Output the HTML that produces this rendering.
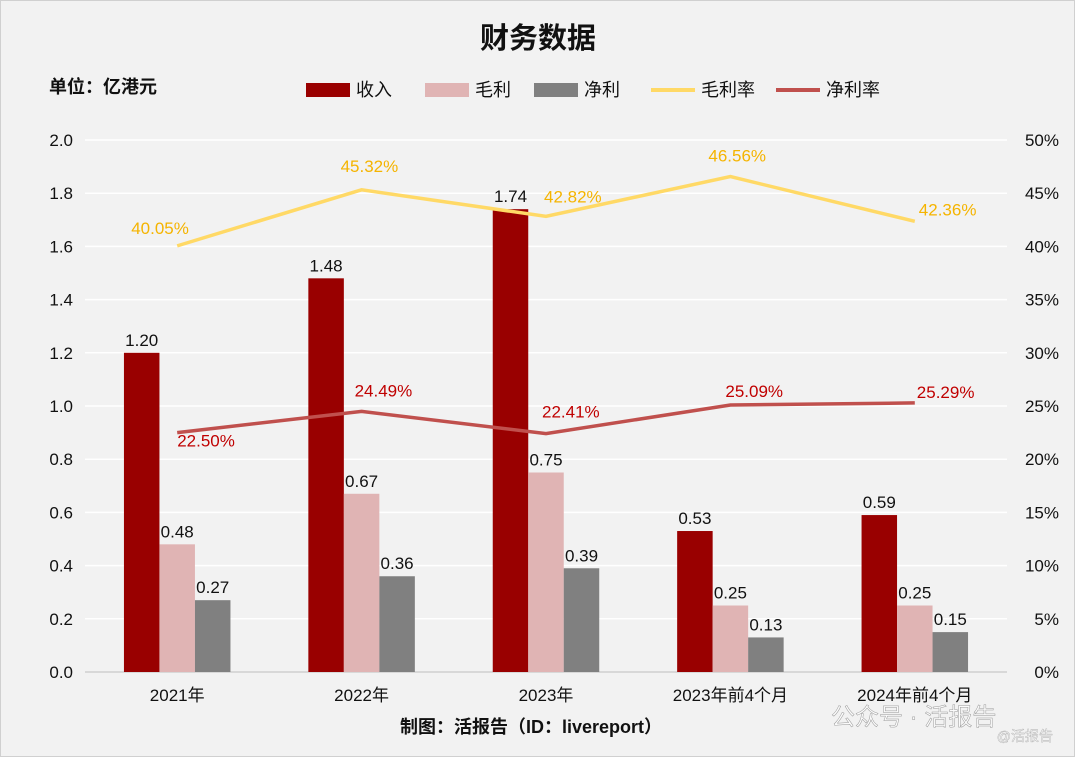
<!DOCTYPE html>
<html><head><meta charset="utf-8">
<style>
body{margin:0;background:#fff;font-family:"Liberation Sans","Noto Sans CJK SC",sans-serif;}
#wrap{position:relative;width:1075px;height:757px;background:#f2f2f2;box-sizing:border-box;border:1px solid #d0d0d0;}
svg{position:absolute;left:0;top:0}
</style></head><body>
<div id="wrap">
<svg id="chart" width="1075" height="757"></svg>
</div>
<script>
const categories=["2021年","2022年","2023年","2023年前4个月","2024年前4个月"];
const revenue=[1.20,1.48,1.74,0.53,0.59];
const grossProfit=[0.48,0.67,0.75,0.25,0.25];
const netProfit=[0.27,0.36,0.39,0.13,0.15];
const grossMargin=[40.05,45.32,42.82,46.56,42.36];
const netMargin=[22.50,24.49,22.41,25.09,25.29];
const leftTicks=[0,0.2,0.4,0.6,0.8,1.0,1.2,1.4,1.6,1.8,2.0];
const rightTicks=[0,5,10,15,20,25,30,35,40,45,50];

const NS="http://www.w3.org/2000/svg";
const svg=document.getElementById('chart');
const F='"Liberation Sans","Noto Sans CJK SC",sans-serif';
const X0=84,X1=1006,Y0=671,Y1=139;
const band=(X1-X0)/categories.length;
const xc=i=>X0+band*(i+0.5);
const yL=v=>Y0-(v/2.0)*(Y0-Y1);
const yR=v=>Y0-(v/50)*(Y0-Y1);
function mk(t,a,txt){const e=document.createElementNS(NS,t);for(const k in a)e.setAttribute(k,a[k]);if(txt!==undefined)e.textContent=txt;svg.appendChild(e);return e;}

let e;
e=mk('text',{x:537,y:47,'text-anchor':'middle','font-size':29,'font-weight':'bold','font-family':F,fill:'#111'},'财务数据');


e=mk('text',{x:48,y:92,'font-size':18,'font-weight':'bold','font-family':F,fill:'#111'},'单位：亿港元');



leftTicks.forEach((t,i)=>{
  const y=yL(t);
  e=mk('line',{x1:X0,x2:X1,y1:y,y2:y,stroke:i===0?'#d0d0d0':'#ffffff','stroke-width':1.5});
  
  
  e=mk('text',{x:72,y:y+6,'text-anchor':'end','font-size':17,'font-family':F,fill:'#111'},t.toFixed(1));
  
  
});
rightTicks.forEach(t=>{
  e=mk('text',{x:1058,y:yR(t)+6,'text-anchor':'end','font-size':17,'font-family':F,fill:'#111'},t+'%');
  
  
});

const bw=35.5;
const series=[[revenue,'#990000','revenue'],[grossProfit,'#e0b4b4','gross-profit'],[netProfit,'#808080','net-profit']];
categories.forEach((c,i)=>{
  series.forEach((s,j)=>{
    const v=s[0][i];const x=xc(i)-bw*1.5+j*bw;
    e=mk('rect',{x:x,y:yL(v),width:bw,height:Y0-yL(v),fill:s[1]});
    
    
    e=mk('text',{x:x+bw/2,y:yL(v)-7,'text-anchor':'middle','font-size':17,'font-family':F,fill:'#111'},v.toFixed(2));
    
    
  });
  e=mk('text',{x:xc(i),y:700,'text-anchor':'middle','font-size':17,'font-family':F,fill:'#111'},c);
  
  
});

// label offsets relative to point (layout, not data)
const grossOff=[[-46,-12],[-21,-18],[-2,-14],[-22,-15],[4,-6]];
const netOff=[[0,14],[-7,-15],[-4,-16],[-5,-8],[2,-5]];
function line(vals,color,name,labelColor,off){
  const pts=vals.map((v,i)=>xc(i)+','+yR(v)).join(' ');
  e=mk('polyline',{points:pts,fill:'none',stroke:color,'stroke-width':3.5});
  
  
  vals.forEach((v,i)=>{
    e=mk('text',{x:xc(i)+off[i][0],y:yR(v)+off[i][1],'font-size':17,'font-family':F,fill:labelColor},v.toFixed(2)+'%');
    
    
  });
}
line(grossMargin,'#ffd966','gross-margin','#f5b400',grossOff);
line(netMargin,'#c0504d','net-margin','#c00000',netOff);

const leg=[['rect','#990000','收入',305],['rect','#e0b4b4','毛利',424],['rect','#808080','净利',533],['line','#ffd966','毛利率',650],['line','#c0504d','净利率',775]];
leg.forEach(l=>{
  if(l[0]==='rect'){e=mk('rect',{x:l[3],y:82,width:44,height:14,fill:l[1]});}
  else{e=mk('line',{x1:l[3],x2:l[3]+44,y1:89,y2:89,stroke:l[1],'stroke-width':4});}
  
  
  e=mk('text',{x:l[3]+50,y:95,'font-size':18,'font-family':F,fill:'#111'},l[2]);
  
  
});

e=mk('text',{x:530,y:732,'text-anchor':'middle','font-size':18,'font-weight':'bold','font-family':F,fill:'#111'},'制图：活报告（ID：livereport）');


e=mk('text',{x:830,y:724,'font-size':24,'font-family':F,fill:'#fff','fill-opacity':0.7,stroke:'#999','stroke-width':0.5},'公众号 · 活报告');


e=mk('text',{x:1052,y:740,'text-anchor':'end','font-size':14,'font-family':F,fill:'#fff',stroke:'#aaa','stroke-width':0.4},'@活报告');


</script>
</body></html>
